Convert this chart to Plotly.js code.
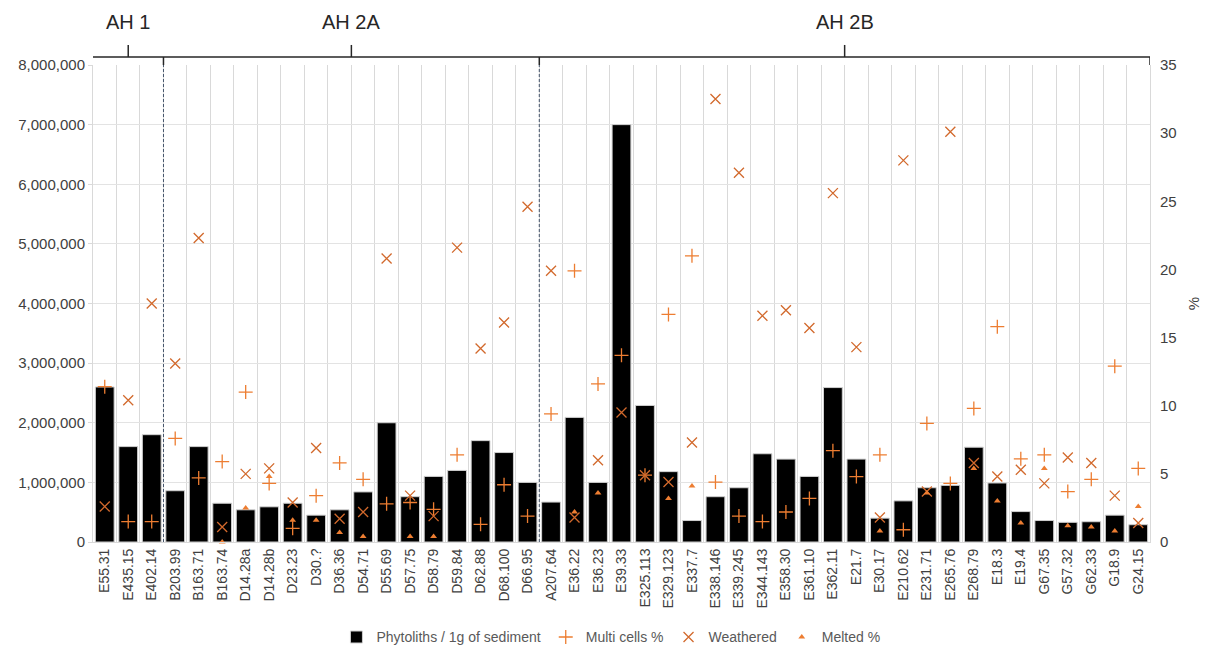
<!DOCTYPE html>
<html>
<head>
<meta charset="utf-8">
<script src="https://cdn.plot.ly/plotly-3.0.1.min.js"></script>
<style>html,body{margin:0;padding:0;background:#fff;}#chart{width:1208px;height:650px;}</style>
</head>
<body>
<div id="chart"></div>
<script>
const categories = ["E55.31","E435.15","E402.14","B203.99","B163.71","B163.74","D14.28a","D14.28b","D23.23","D30.?","D36.36","D54.71","D55.69","D57.75","D58.79","D59.84","D62.88","D68.100","D66.95","A207.64","E36.22","E36.23","E39.33","E325.113","E329.123","E337.7","E338.146","E339.245","E344.143","E358.30","E361.10","E362.11","E21.7","E30.17","E210.62","E231.71","E265.76","E268.79","E18.3","E19.4","G67.35","G57.32","G62.33","G18.9","G24.15"];

const phytoliths = [2600000,1600000,1800000,860000,1600000,650000,540000,590000,650000,450000,540000,840000,2000000,760000,1100000,1200000,1700000,1500000,1000000,670000,2090000,1000000,7000000,2290000,1180000,360000,760000,910000,1480000,1390000,1100000,2590000,1390000,400000,690000,910000,950000,1590000,990000,510000,360000,330000,340000,450000,290000];

const multiCells = [11.4,1.5,1.5,7.6,4.7,5.9,11.0,4.3,1.0,3.4,5.8,4.6,2.8,2.9,2.4,6.4,1.3,4.2,1.9,9.4,19.9,11.6,13.7,4.9,16.7,21.0,4.4,1.9,1.5,2.2,3.2,6.7,4.8,6.4,0.9,8.7,4.3,9.8,15.8,6.1,6.4,3.7,4.6,12.9,5.4];

const weathered = [2.6,10.4,17.5,13.1,22.3,1.1,5.0,5.4,2.9,6.9,1.7,2.2,20.8,3.4,1.9,21.6,14.2,16.1,24.6,19.9,1.8,6.0,9.5,4.9,4.4,7.3,32.5,27.1,16.6,17.0,15.7,25.6,14.3,1.8,28.0,3.7,30.1,5.8,4.8,5.3,4.3,6.2,5.8,3.4,1.4];

const melted = [null,null,null,null,null,0,2.5,4.8,1.6,1.6,0.7,0.4,null,0.4,0.4,null,null,null,null,null,2.2,3.6,null,null,3.2,4.1,null,null,null,null,null,null,null,0.8,null,3.6,null,5.4,3.0,1.4,5.4,1.2,1.1,0.8,2.6];

const groupLabels = ["AH 1","AH 2A","AH 2B"];
const groupCenters = [1, 10.5, 31.5];
const groupBounds = [-0.585, 2.5, 18.5, 44.5];

const traces = [
  {type:"bar", name:"Phytoliths / 1g of sediment", x:categories, y:phytoliths,
   marker:{color:"#000000", line:{color:"#cfcfcf", width:1}}, yaxis:"y"},
  {type:"scatter", mode:"markers", name:"Multi cells %", x:categories, y:multiCells, yaxis:"y2", cliponaxis:false,
   marker:{symbol:"cross-thin-open", size:10, color:"#ED7D31", line:{color:"#ED7D31", width:1.3}}},
  {type:"scatter", mode:"markers", name:"Weathered", x:categories, y:weathered, yaxis:"y2", cliponaxis:false,
   marker:{symbol:"x-thin-open", size:10, color:"#D2692C", line:{color:"#D2692C", width:1.3}}},
  {type:"scatter", mode:"markers", name:"Melted %", x:categories, y:melted, yaxis:"y2", cliponaxis:false,
   marker:{symbol:"triangle-up", size:6, color:"#ED7D31"}}
];

const shapes = [];
const yLine = 1.0168, yUp = 1.042;
shapes.push({type:"line", xref:"x", yref:"paper", x0:groupBounds[0], x1:groupBounds[3], y0:yLine, y1:yLine, line:{color:"#262626", width:1.5}});
groupBounds.forEach(b => shapes.push({type:"line", xref:"x", yref:"paper", x0:b, x1:b, y0:1.0, y1:yLine, line:{color:"#262626", width:1.5}}));
groupCenters.forEach(c => shapes.push({type:"line", xref:"x", yref:"paper", x0:c, x1:c, y0:yLine, y1:yUp, line:{color:"#262626", width:1.5}}));
[groupBounds[1], groupBounds[2]].forEach(b => shapes.push({type:"line", xref:"x", yref:"paper", x0:b, x1:b, y0:0, y1:1.0, layer:"above", line:{color:"#44546A", width:1, dash:"3px,2px"}}));

const annotations = groupLabels.map((t,i) => ({text:t, xref:"x", yref:"paper", x:groupCenters[i], y:1.09, showarrow:false, xanchor:"center", yanchor:"middle", font:{size:20, color:"#262626"}}));

const layout = {
  width:1208, height:650,
  margin:{l:93, r:58, t:65, b:108, autoexpand:false},
  paper_bgcolor:"#ffffff", plot_bgcolor:"#ffffff",
  font:{family:"Liberation Sans, Arial, sans-serif", color:"#404040"},
  bargap:0.2,
  showlegend:true,
  legend:{orientation:"h", x:0.49, xanchor:"center", y:-0.2, yanchor:"middle", font:{size:14, color:"#595959"}, traceorder:"normal", itemwidth:30},
  xaxis:{type:"category", range:[-0.5,44.5], tickangle:-90, tickfont:{size:14, color:"#404040"}, showgrid:true, gridcolor:"#d9d9d9", tickson:"boundaries", ticks:"", showline:true, linecolor:"#d9d9d9", automargin:false, fixedrange:true},
  yaxis:{range:[0,8000000], dtick:1000000, tickformat:",d", tickfont:{size:15, color:"#404040"}, gridcolor:"#e3e3e3", showline:true, linecolor:"#d9d9d9", ticks:"outside", ticklen:4, tickcolor:"#d9d9d9", zeroline:false, automargin:false},
  yaxis2:{overlaying:"y", side:"right", range:[0,35], dtick:5, tickfont:{size:15, color:"#404040"}, showgrid:false, showline:true, linecolor:"#d9d9d9", ticks:"outside", ticklen:6, tickcolor:"rgba(0,0,0,0)", zeroline:false, automargin:false, title:{text:"%", font:{size:15, color:"#404040"}, standoff:12}},
  shapes:shapes,
  annotations:annotations
};

Plotly.newPlot("chart", traces, layout, {displayModeBar:false, staticPlot:true});
</script>
</body>
</html>
